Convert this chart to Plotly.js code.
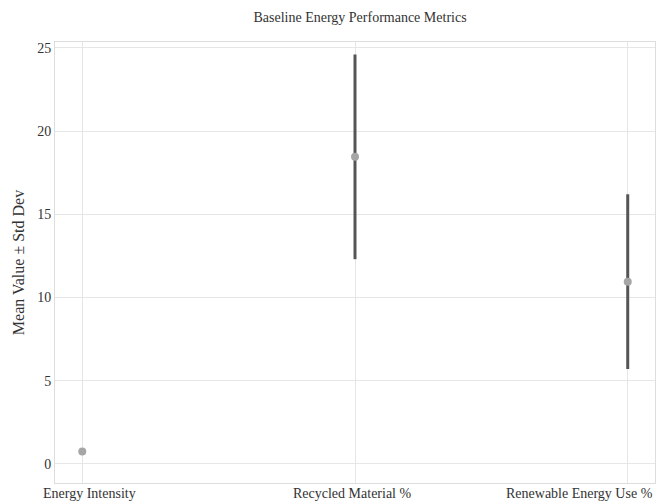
<!DOCTYPE html>
<html>
<head>
<meta charset="utf-8">
<script src="https://cdn.plot.ly/plotly-3.0.1.min.js"></script>
<style>html,body{margin:0;padding:0;background:#fff;}#chart{width:657px;height:502px;}</style>
</head>
<body>
<div id="chart"></div>
<script>
const categories = ["Energy Intensity", "Recycled Material %", "Renewable Energy Use %"];
const meanValues = [0.75, 18.45, 10.95];
const stdDevs = [0.05, 6.15, 5.25];

const trace = {
  x: categories,
  y: meanValues,
  type: "scatter",
  mode: "markers",
  marker: {color: "#a6a6a6", size: 8},
  error_y: {type: "data", array: stdDevs, visible: true, color: "#555555", thickness: 3, width: 0}
};

// label placement (layout only)
const labelAnchor = ["center", "center", "right"];
const labelShift = [7, -3, 27];

const layout = {
  width: 657,
  height: 502,
  margin: {l: 55, r: 2, t: 42, b: 19},
  paper_bgcolor: "#ffffff",
  plot_bgcolor: "#ffffff",
  showlegend: false,
  font: {family: "Liberation Serif, Times New Roman, serif", color: "#333333", size: 14},
  title: {text: "Baseline Energy Performance Metrics", x: 0.548, xanchor: "center", y: 0.966, yanchor: "middle", font: {size: 14, color: "#333333"}},
  xaxis: {
    type: "category",
    range: [-0.1, 2.1],
    showgrid: true, gridcolor: "#e6e6e6",
    showline: true, linecolor: "#dddddd", mirror: true, linewidth: 1,
    zeroline: false, ticks: "", showticklabels: false
  },
  yaxis: {
    range: [-1.15, 25.35],
    dtick: 5,
    showgrid: true, gridcolor: "#e6e6e6",
    showline: true, linecolor: "#dddddd", mirror: true, linewidth: 1,
    zeroline: false, ticks: "", tickfont: {size: 14},
    title: {text: "Mean Value ± Std Dev", font: {size: 16}, standoff: 8}
  },
  annotations: categories.map((c, i) => ({
    x: c, xref: "x", y: 0, yref: "paper", yanchor: "top", yshift: -1,
    xanchor: labelAnchor[i], xshift: labelShift[i],
    text: c, showarrow: false, font: {size: 14, color: "#333333"}
  }))
};

Plotly.newPlot("chart", [trace], layout, {displayModeBar: false, staticPlot: true});
</script>
</body>
</html>
